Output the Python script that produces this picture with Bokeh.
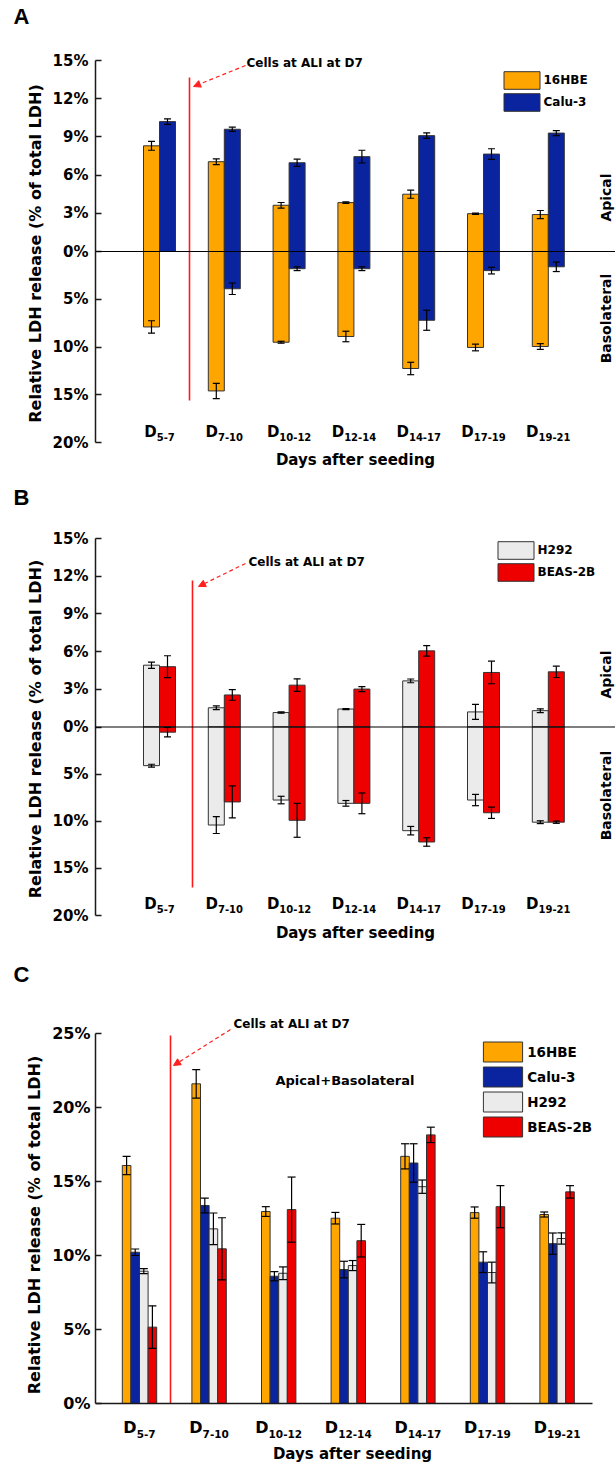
import math
from bokeh.plotting import figure
from bokeh.models import (ColumnDataSource, Range1d, FixedTicker, Span, Whisker, TeeHead,
                          Label, LabelSet, Arrow, NormalHead, Legend, LegendItem, Title)
from bokeh.layouts import column
from bokeh.core.properties import value
from bokeh.embed import file_html
from bokeh.resources import INLINE

NaN = float("nan")

day_subs = ["5-7", "7-10", "10-12", "12-14", "14-17", "17-19", "19-21"]

# ---- Panel A: 16HBE / Calu-3 (apical up, basolateral down) ----
a_names = ["16HBE", "Calu-3"]
a_16hbe_apical = [8.30, 7.05, 3.63, 3.84, 4.50, 2.97, 2.90]
a_16hbe_apical_err = [0.35, 0.22, 0.22, 0.06, 0.32, 0.05, 0.32]
a_calu3_apical = [10.20, 9.60, 6.97, 7.45, 9.10, 7.65, 9.30]
a_calu3_apical_err = [0.22, 0.16, 0.28, 0.50, 0.22, 0.42, 0.20]
a_16hbe_baso = [7.90, 14.60, 9.50, 8.90, 12.25, 10.05, 9.95]
a_16hbe_baso_err = [0.65, 0.80, 0.10, 0.55, 0.65, 0.35, 0.30]
a_calu3_baso = [0.0, 3.90, 1.80, 1.80, 7.20, 2.00, 1.60]
a_calu3_baso_err = [NaN, 0.60, 0.20, 0.20, 1.05, 0.35, 0.50]

# ---- Panel B: H292 / BEAS-2B ----
b_names = ["H292", "BEAS-2B"]
b_h292_apical = [4.92, 1.53, 1.15, 1.43, 3.67, 1.20, 1.30]
b_h292_apical_err = [0.25, 0.15, 0.05, 0.04, 0.15, 0.60, 0.15]
b_beas_apical = [4.80, 2.55, 3.33, 3.02, 6.06, 4.34, 4.39]
b_beas_apical_err = [0.87, 0.42, 0.50, 0.20, 0.42, 0.90, 0.45]
b_h292_baso = [4.10, 10.40, 7.75, 8.10, 11.00, 7.75, 10.10]
b_h292_baso_err = [0.15, 0.90, 0.40, 0.30, 0.45, 0.60, 0.15]
b_beas_baso = [0.55, 7.95, 9.90, 8.10, 12.20, 9.10, 10.10]
b_beas_baso_err = [0.50, 1.70, 1.80, 1.10, 0.45, 0.60, 0.12]

# ---- Panel C: Apical + Basolateral ----
c_names = ["16HBE", "Calu-3", "H292", "BEAS-2B"]
c_16hbe = [16.08, 21.60, 12.97, 12.52, 16.70, 12.90, 12.77]
c_16hbe_err = [0.62, 0.96, 0.33, 0.39, 0.85, 0.38, 0.17]
c_calu3 = [10.22, 13.38, 8.60, 9.05, 16.25, 9.55, 10.80]
c_calu3_err = [0.22, 0.50, 0.31, 0.56, 1.30, 0.70, 0.72]
c_h292 = [8.94, 11.80, 8.80, 9.32, 14.65, 8.85, 11.15]
c_h292_err = [0.17, 1.07, 0.43, 0.34, 0.45, 0.70, 0.38]
c_beas = [5.16, 10.45, 13.10, 11.00, 18.15, 13.30, 14.30]
c_beas_err = [1.44, 2.10, 2.20, 1.10, 0.52, 1.42, 0.42]

apical_ticks = [15, 12, 9, 6, 3, 0]
baso_ticks = [5, 10, 15, 20]
c_ticks = [0, 5, 10, 15, 20, 25]

ORANGE = "#FFA500"
BLUE = "#0A239E"
GREY = "#EBEBEB"
RED = "#EE0000"
LINE_RED = "#FF1A1A"
FONT = "DejaVu Sans"
LETTER_FONT = "Liberation Sans"
BASO = 0.75  # basolateral half of the axis is compressed (20% spans the same length as 15%)
YTITLE = "Relative LDH release (% of total LDH)"
W = 615          # page width (the Bokeh page template has no body margin)
FRAME_L = 95     # common frame left edge (column aligns frames)


def style_yaxis(p, tick_size, label_standoff, bounds):
    p.outline_line_color = None
    p.xgrid.visible = False
    p.ygrid.visible = False
    ax = p.yaxis[0]
    ax.bounds = bounds
    ax.axis_line_color = "#1a1a1a"
    ax.axis_line_width = 1.5
    ax.major_tick_line_color = "#1a1a1a"
    ax.major_tick_line_width = 1.5
    ax.major_tick_in = 6
    ax.major_tick_out = 0
    ax.minor_tick_line_color = None
    ax.major_label_text_font = FONT
    ax.major_label_text_font_style = "bold"
    ax.major_label_text_font_size = tick_size
    ax.major_label_text_color = "black"
    ax.major_label_standoff = label_standoff


def style_letter(p, left_offset, valign):
    t = p.title
    t.text_font = LETTER_FONT
    t.text_font_size = "22px"
    t.text_font_style = "bold"
    t.text_color = "black"
    t.align = "left"
    t.offset = left_offset
    t.standoff = 0
    t.vertical_align = valign


def add_ytitle(p, size, offset, standoff):
    p.add_layout(Title(text=YTITLE, align="center", offset=offset, standoff=standoff,
                       text_font=FONT, text_font_style="bold", text_font_size=size,
                       text_color="black"), "left")


def day_labels(p, pitch, y_d, y_sub, d_size, sub_size):
    n = len(day_subs)
    w_d = 0.83 * d_size
    joins = []
    for i, s in enumerate(day_subs):
        w_s = sub_size * sum(0.696 if ch.isdigit() else 0.415 for ch in s)
        joins.append(i + (w_d - w_s) / 2.0 / pitch)
    src = ColumnDataSource(dict(x=joins, yd=[y_d] * n, ys=[y_sub] * n, d=["D"] * n, sub=day_subs))
    p.add_layout(LabelSet(x="x", y="yd", text="d", source=src, text_align="right",
                          text_baseline="alphabetic", text_font=value(FONT), text_font_style="bold",
                          text_font_size=f"{d_size}px", text_color="black"))
    p.add_layout(LabelSet(x="x", y="ys", text="sub", source=src, text_align="left",
                          text_baseline="alphabetic", text_font=value(FONT), text_font_style="bold",
                          text_font_size=f"{sub_size}px", text_color="black"))


def whisker(src, size):
    return Whisker(base="x", upper="upper", lower="lower", source=src, line_color="black",
                   line_width=1.2, level="annotation",
                   upper_head=TeeHead(size=size, line_color="black", line_width=1.2),
                   lower_head=TeeHead(size=size, line_color="black", line_width=1.2))


def text_label(p, x, y, text, size, align="left", angle=0.0, baseline="middle"):
    p.add_layout(Label(x=x, y=y, text=text, text_font=FONT, text_font_style="bold",
                       text_font_size=size, text_color="black", text_align=align,
                       text_baseline=baseline, angle=angle))


def make_legend(names, rends, box_left, box_top, box_w, box_h, pitch, text_x, frame_bottom, fsize):
    # Bokeh insets area glyphs by 10% of the glyph box on each side
    gw = box_w / 0.8
    gh = pitch
    area_left = box_left - (gw - box_w) / 2.0
    area_top = box_top - (gh - box_h) / 2.0
    n = len(names)
    height = n * gh
    standoff = max(0, int(round(text_x - (area_left + gw))))
    return Legend(items=[LegendItem(label=nm, renderers=[r]) for nm, r in zip(names, rends)],
                  location=(area_left - FRAME_L, frame_bottom - (area_top + height)),
                  orientation="vertical", glyph_width=int(round(gw)), glyph_height=int(round(gh)),
                  label_height=int(round(gh)), label_width=70, spacing=0,
                  padding=0, margin=0, label_standoff=standoff, label_text_font=FONT,
                  label_text_font_style="bold", label_text_font_size=fsize,
                  label_text_color="black", border_line_color=None, background_fill_alpha=0)


def build_ab(letter, names, colors, api, api_err, baso, baso_err, g):
    pitch, c0 = 64.8, 159.0
    ppy = (g["y20"] - g["y15"]) / 30.0
    zero = g["y15"] + 15 * ppy
    X = lambda px: (px - c0) / pitch
    Y = lambda py: (zero - py) / ppy
    bottom = g["top"] + g["h"]
    p = figure(width=W, height=g["h"], x_range=Range1d(X(FRAME_L), X(W)),
               y_range=Range1d(Y(bottom), Y(g["ft"])), x_axis_location=None,
               output_backend="svg", toolbar_location=None, title=letter,
               min_border_left=FRAME_L, min_border_right=0,
               min_border_top=g["ft"] - g["top"], min_border_bottom=0)
    style_yaxis(p, "15px", 7, (-15, 15))
    style_letter(p, 13 - FRAME_L, g["valign"])
    add_ytitle(p, "16px", g["tt_off"], 9)
    p.yaxis[0].ticker = FixedTicker(ticks=apical_ticks + [-t * BASO for t in baso_ticks])
    ov = {t: f"{t}%" for t in apical_ticks}
    ov.update({-t * BASO: f"{t}%" for t in baso_ticks})
    p.yaxis[0].major_label_overrides = ov

    n = len(day_subs)
    w = 16.0 / pitch
    rends = []
    for k in range(2):
        xs = [i + (k - 0.5) * w for i in range(n)]
        v, e = api[k], api_err[k]
        sa = ColumnDataSource(dict(x=xs, top=v, bottom=[0.0] * n,
                                   upper=[a + b for a, b in zip(v, e)],
                                   lower=[a - b for a, b in zip(v, e)]))
        r = p.vbar(x="x", width=w, top="top", bottom="bottom", source=sa,
                   fill_color=colors[k], line_color="#333333", line_width=1)
        rends.append(r)
        p.add_layout(whisker(sa, 7))
        bv, be = baso[k], baso_err[k]
        sb = ColumnDataSource(dict(x=xs, top=[0.0] * n, bottom=[-a * BASO for a in bv],
                                   upper=[-(a - b) * BASO for a, b in zip(bv, be)],
                                   lower=[-(a + b) * BASO for a, b in zip(bv, be)]))
        p.vbar(x="x", width=w, top="top", bottom="bottom", source=sb,
               fill_color=colors[k], line_color="#333333", line_width=1)
        p.add_layout(whisker(sb, 7))

    p.add_layout(Span(location=0, dimension="width", line_color="black", line_width=1.2))
    # ALI marker
    p.segment(x0=[X(g["rx"])], y0=[Y(g["rt"])], x1=[X(g["rx"])], y1=[Y(g["rb"])],
              line_color=LINE_RED, line_width=1.6)
    p.add_layout(Arrow(end=NormalHead(size=7, fill_color="#FF2020", line_color="#FF2020"),
                       x_start=X(g["ax0"]), y_start=Y(g["ay0"]), x_end=X(g["ax1"]), y_end=Y(g["ay1"]),
                       line_color="#FF2020", line_width=1.2, line_dash="4 3"))
    text_label(p, X(g["tx"]), Y(g["ty"]), "Cells at ALI at D7", "12px")
    text_label(p, X(605), Y(g["api_y"]), "Apical", "14px", align="center", angle=math.pi / 2)
    text_label(p, X(605), Y(g["baso_y"]), "Basolateral", "14px", align="center", angle=math.pi / 2)
    text_label(p, X(355), Y(g["days_y"]), "Days after seeding", "15px", align="center")
    day_labels(p, pitch, Y(g["d_base"]), Y(g["d_base"] + 4), 15, 10)
    p.add_layout(make_legend(names, rends, g["lx"], g["ly"], 36, 18, 22, g["lx"] + 41, bottom, "12px"))
    return p


pA = build_ab("A", a_names, [ORANGE, BLUE],
              [a_16hbe_apical, a_calu3_apical], [a_16hbe_apical_err, a_calu3_apical_err],
              [a_16hbe_baso, a_calu3_baso], [a_16hbe_baso_err, a_calu3_baso_err],
              dict(top=0, h=476, ft=30, y15=60, y20=442, valign="top", tt_off=3,
                   rx=189, rt=77, rb=400, ax0=245, ay0=65, ax1=193, ay1=86, tx=246, ty=62,
                   api_y=197, baso_y=318, d_base=436, days_y=459, lx=503, ly=71))

pB = build_ab("B", b_names, [GREY, RED],
              [b_h292_apical, b_beas_apical], [b_h292_apical_err, b_beas_apical_err],
              [b_h292_baso, b_beas_baso], [b_h292_baso_err, b_beas_baso_err],
              dict(top=476, h=472, ft=509, y15=538, y20=915, valign="bottom", tt_off=2,
                   rx=192, rt=580, rb=887, ax0=245, ay0=563, ax1=198, ay1=586, tx=248, ty=561,
                   api_y=674, baso_y=795, d_base=908, days_y=932, lx=497, ly=541))

# ---- Panel C ----
C_TOP, C_H, C_FT = 948, 515, 986
C_Y25, C_Y0 = 1033, 1403
c_pitch, c_c0 = 69.6, 139.0
c_ppy = (C_Y0 - C_Y25) / 25.0
CX = lambda px: (px - c_c0) / c_pitch
CY = lambda py: (C_Y0 - py) / c_ppy
C_BOTTOM = C_TOP + C_H
pC = figure(width=W, height=C_H, x_range=Range1d(CX(FRAME_L), CX(W)),
            y_range=Range1d(CY(C_BOTTOM), CY(C_FT)),
            output_backend="svg", toolbar_location=None, title="C",
            min_border_left=FRAME_L, min_border_right=0,
            min_border_top=C_FT - C_TOP, min_border_bottom=0)
style_yaxis(pC, "16px", 5, (0, 25))
style_letter(pC, 13 - FRAME_L, "bottom")
add_ytitle(pC, "16px", 0, 12)
pC.yaxis[0].ticker = FixedTicker(ticks=c_ticks)
pC.yaxis[0].major_label_overrides = {t: f"{t}%" for t in c_ticks}
xa = pC.xaxis[0]
xa.fixed_location = 0
xa.bounds = (CX(FRAME_L), CX(592))
xa.ticker = FixedTicker(ticks=[])
xa.major_tick_line_color = None
xa.minor_tick_line_color = None
xa.major_label_text_font_size = "0px"
xa.major_label_standoff = 0
xa.axis_line_color = "#1a1a1a"
xa.axis_line_width = 1.5

c_vals = [c_16hbe, c_calu3, c_h292, c_beas]
c_errs = [c_16hbe_err, c_calu3_err, c_h292_err, c_beas_err]
c_cols = [ORANGE, BLUE, GREY, RED]
n = len(day_subs)
cw = 8.6 / c_pitch
c_rends = []
for k in range(4):
    xs = [i + (k - 1.5) * cw for i in range(n)]
    v, e = c_vals[k], c_errs[k]
    s = ColumnDataSource(dict(x=xs, top=v, upper=[a + b for a, b in zip(v, e)],
                              lower=[a - b for a, b in zip(v, e)]))
    r = pC.vbar(x="x", width=cw, top="top", bottom=0, source=s, fill_color=c_cols[k],
                line_color="#333333", line_width=1)
    c_rends.append(r)
    pC.add_layout(whisker(s, 8))

pC.segment(x0=[CX(170)], y0=[CY(1035)], x1=[CX(170)], y1=[0], line_color=LINE_RED, line_width=1.6)
pC.add_layout(Arrow(end=NormalHead(size=7, fill_color="#FF2020", line_color="#FF2020"),
                    x_start=CX(230), y_start=CY(1029), x_end=CX(173), y_end=CY(1065),
                    line_color="#FF2020", line_width=1.2, line_dash="4 3"))
text_label(pC, CX(233), CY(1023), "Cells at ALI at D7", "12px")
text_label(pC, CX(275), CY(1080), "Apical+Basolateral", "13px")
text_label(pC, CX(352), CY(1453), "Days after seeding", "15px", align="center")
day_labels(pC, c_pitch, CY(1432), CY(1437), 16, 10.5)
pC.add_layout(make_legend(c_names, c_rends, 483, 1043, 39, 20, 24.6, 527, C_BOTTOM, "13.5px"))

layout = column(pA, pB, pC, spacing=0)
open("out.html", "w").write(file_html(layout, INLINE))
